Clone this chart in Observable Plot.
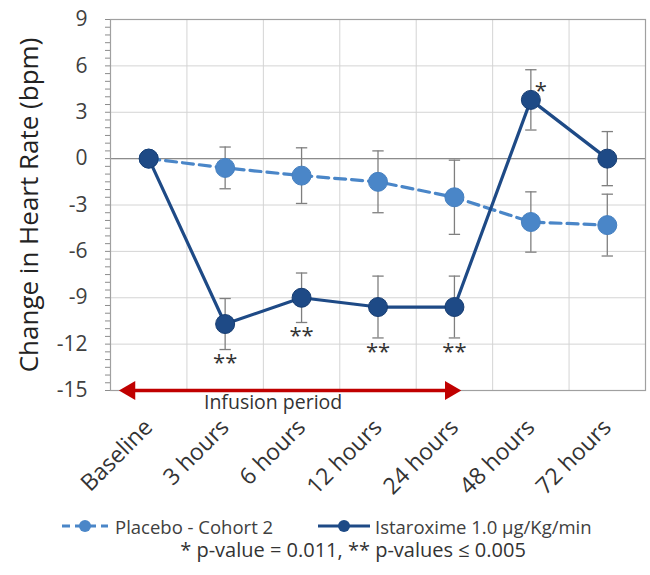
<!DOCTYPE html>
<html>
<head>
<meta charset="utf-8">
<script src="https://cdn.jsdelivr.net/npm/d3@7"></script>
<script src="https://cdn.jsdelivr.net/npm/@observablehq/plot@0.6"></script>
<style>
  body { margin: 0; background: #fff; font-family: "Open Sans", Lato, sans-serif; }
  #wrap { position: relative; width: 650px; height: 575px; }
  .legend { position: absolute; top: 512px; left: 0; width: 650px; height: 28px; font-size: 18.5px; color: #404040; }
  .item { position: absolute; top: 0; display: flex; align-items: center; height: 28px; white-space: nowrap; }
  .item svg { margin-right: 5px; }
  .note { position: absolute; top: 536px; left: 0; width: 650px; text-align: center; font-size: 20px; color: #333; padding-left: 56px; box-sizing: border-box; }
</style>
</head>
<body>
<div id="wrap">
  <div id="chart"></div>
  <div class="legend">
    <div class="item" style="left:60px">
      <svg width="50" height="20"><line x1="2" y1="10" x2="48" y2="10" stroke="#4a86c8" stroke-width="3" stroke-dasharray="8,5"/><circle cx="25" cy="10" r="6" fill="#4a86c8"/></svg>
      <span>Placebo - Cohort 2</span>
    </div>
    <div class="item" style="left:318px">
      <svg width="52" height="20"><line x1="0" y1="10" x2="52" y2="10" stroke="#1e4a86" stroke-width="3"/><circle cx="26" cy="10" r="6" fill="#1e4a86"/></svg>
      <span>Istaroxime 1.0 μg/Kg/min</span>
    </div>
  </div>
  <div class="note">* p-value = 0.011, ** p-values ≤ 0.005</div>
</div>
<script>
// Time points after the start of infusion
const categories = ["Baseline", "3 hours", "6 hours", "12 hours", "24 hours", "48 hours", "72 hours"];

// Mean change in heart rate (bpm) and its error (±) for each arm
const placeboMean = [0, -0.6, -1.1, -1.5, -2.5, -4.1, -4.3];
const placeboErr  = [null, 1.35, 1.8, 2.0, 2.4, 1.95, 2.0];
const istaMean    = [0, -10.7, -9.0, -9.6, -9.6, 3.8, 0.0];
const istaErr     = [null, 1.65, 1.6, 2.0, 2.0, 1.95, 1.75];

// Significance markers vs placebo
const significance = ["", "**", "**", "**", "**", "*", ""];

// Y axis ticks
const yTicks = [-15, -12, -9, -6, -3, 0, 3, 6, 9];

// Infusion period annotation, in time-point index units
const infusionExtent = [-0.3, 4.0];
const infusionLabel = "Infusion period";

const placeboColor = "#4a86c8";
const istaColor = "#1e4a86";
const font = "'Open Sans', Lato, sans-serif";

const rows = (mean, err) => categories.map((c, i) => ({i, c, mean: mean[i], err: err[i], sig: significance[i]}));
const placebo = rows(placeboMean, placeboErr);
const ista = rows(istaMean, istaErr);
const withErr = (d) => d.err != null;

// Horizontal cap for the error bars
const capSymbol = {draw(ctx, size) { const w = Math.sqrt(size); ctx.moveTo(-w, 0); ctx.lineTo(w, 0); }};

const errorBars = (data) => [
  Plot.ruleX(data.filter(withErr), {x: "i", y1: (d) => d.mean - d.err, y2: (d) => d.mean + d.err, stroke: "#7f7f7f", strokeWidth: 1.3}),
  Plot.dot(data.filter(withErr), {x: "i", y: (d) => d.mean + d.err, symbol: capSymbol, r: 3.2, stroke: "#7f7f7f", strokeWidth: 1.3, fill: "none"}),
  Plot.dot(data.filter(withErr), {x: "i", y: (d) => d.mean - d.err, symbol: capSymbol, r: 3.2, stroke: "#7f7f7f", strokeWidth: 1.3, fill: "none"})
];

const minorTicks = d3.range(-15, 9.001, 0.5);
const boundaries = d3.range(0.5, categories.length - 1, 1);

const chart = Plot.plot({
  width: 650,
  height: 500,
  marginLeft: 110,
  marginRight: 5,
  marginTop: 19,
  marginBottom: 110,
  style: {fontFamily: font, background: "#fff", overflow: "visible"},
  x: {domain: [-0.5, categories.length - 0.5], axis: null},
  y: {domain: [-15, 9], axis: null},
  marks: [
    Plot.gridY(yTicks, {stroke: "#d4d4d4", strokeOpacity: 1}),
    Plot.gridX(boundaries, {stroke: "#d4d4d4", strokeOpacity: 1}),
    Plot.ruleY([0], {stroke: "#8c8c8c", strokeWidth: 1.2}),
    Plot.frame({stroke: "#a0a0a0", strokeWidth: 1.2}),
    // minor ticks on the left edge
    Plot.axisY(minorTicks, {anchor: "left", tickSize: 5, fill: "none", stroke: "#8c8c8c", label: null}),
    // tick labels
    Plot.axisY(yTicks, {anchor: "left", tickSize: 0, tickPadding: 23, tickFormat: (d) => String(d), fontSize: 21, fill: "#404040", label: null}),
    Plot.text(["Change in Heart Rate (bpm)"], {frameAnchor: "left", rotate: -90, dx: -81, fontSize: 26, fill: "#222", textAnchor: "middle"}),
    // x labels
    Plot.axisX(d3.range(categories.length), {anchor: "bottom", tickSize: 0, tickPadding: 33, tickRotate: -45, tickFormat: (i) => categories[i], fontSize: 23, fill: "#333", label: null}),

    // infusion period arrow
    Plot.link([infusionExtent], {x1: (d) => d[0], x2: (d) => d[1], y1: -15, y2: -15, stroke: "#c00000", strokeWidth: 3.5}),
    Plot.dot([infusionExtent[0]], {x: (d) => d, y: -15, symbol: "triangle", rotate: -90, r: 7, fill: "#c00000", dx: 4}),
    Plot.dot([infusionExtent[1]], {x: (d) => d, y: -15, symbol: "triangle", rotate: 90, r: 7, fill: "#c00000", dx: -4}),
    Plot.text([infusionLabel], {x: (infusionExtent[0] + infusionExtent[1]) / 2, y: -15, dx: -17, dy: 12, fontSize: 19.5, fill: "#333"}),

    // placebo
    ...errorBars(placebo),
    Plot.line(placebo, {x: "i", y: "mean", stroke: placeboColor, strokeWidth: 3.2, strokeDasharray: "11,6"}),
    Plot.dot(placebo, {x: "i", y: "mean", r: 9.5, fill: placeboColor, stroke: "#4680c0", strokeWidth: 1}),

    // istaroxime
    ...errorBars(ista),
    Plot.line(ista, {x: "i", y: "mean", stroke: istaColor, strokeWidth: 3.2}),
    Plot.dot(ista, {x: "i", y: "mean", r: 9.5, fill: istaColor, stroke: "#173d72", strokeWidth: 1}),

    // significance markers
    Plot.text(ista.filter((d) => d.sig === "**"), {x: "i", y: (d) => d.mean - d.err, text: "sig", lineAnchor: "top", dy: 5, fontSize: 22, fill: "#333"}),
    Plot.text(ista.filter((d) => d.sig === "*"), {x: "i", y: "mean", text: "sig", dx: 10, dy: -9, fontSize: 22, fill: "#333"})
  ]
});

document.getElementById("chart").appendChild(chart);
</script>
</body>
</html>
